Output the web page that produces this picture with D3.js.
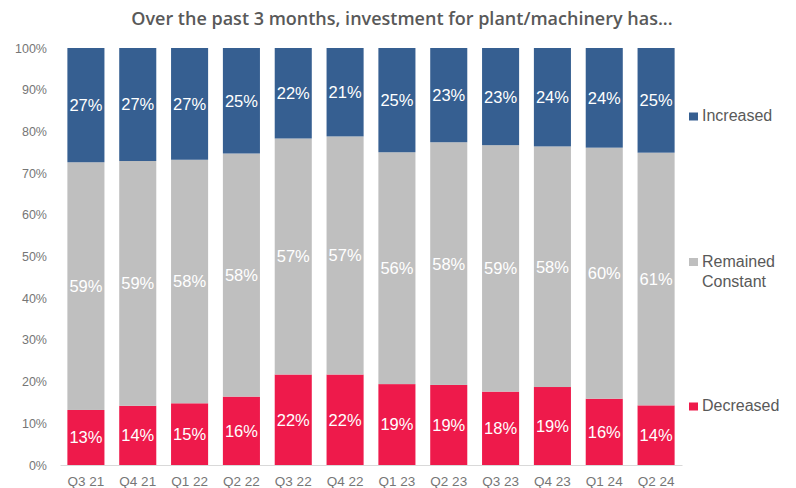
<!DOCTYPE html>
<html>
<head>
<meta charset="utf-8">
<script src="https://cdn.jsdelivr.net/npm/d3@7"></script>
<style>
  body { margin: 0; background: #fff; }
  svg { display: block; }
</style>
</head>
<body>
<svg id="chart"></svg>
<script>
const quarters = ['Q3 21', 'Q4 21', 'Q1 22', 'Q2 22', 'Q3 22', 'Q4 22', 'Q1 23', 'Q2 23', 'Q3 23', 'Q4 23', 'Q1 24', 'Q2 24'];
const decreased = [13.2, 14.2, 14.8, 16.4, 21.7, 21.7, 19.4, 19.2, 17.6, 18.7, 15.9, 14.3];
const remained = [59.4, 58.7, 58.4, 58.3, 56.6, 57.1, 55.6, 58.2, 59.1, 57.7, 60.2, 60.6];
const increased = [27.4, 27.1, 26.8, 25.3, 21.7, 21.2, 25.0, 22.6, 23.3, 23.6, 23.9, 25.1];
const yTicks = [0, 0.1, 0.2, 0.3, 0.4, 0.5, 0.6, 0.7, 0.8, 0.9, 1];

const W = 796, H = 488;
const margin = { top: 48, right: 114, bottom: 23, left: 60 };
const width = W - margin.left - margin.right;
const height = H - margin.top - margin.bottom;

const keys = ['decreased', 'remained', 'increased'];
const colors = { decreased: '#ee1a4b', remained: '#bfbfbf', increased: '#365f91' };
const legendNames = { decreased: ['Decreased'], remained: ['Remained', 'Constant'], increased: ['Increased'] };

const rows = quarters.map((q, i) => ({
  quarter: q,
  decreased: decreased[i],
  remained: remained[i],
  increased: increased[i],
}));

const series = d3.stack().keys(keys).offset(d3.stackOffsetExpand)(rows);

const svg = d3.select('#chart').attr('width', W).attr('height', H);

// title
svg.append('text')
  .attr('x', 402)
  .attr('y', 25)
  .attr('text-anchor', 'middle')
  .attr('font-family', 'Open Sans, sans-serif')
  .attr('font-weight', 600)
  .attr('font-size', 18)
  .attr('fill', '#595959')
  .text('Over the past 3 months, investment for plant/machinery has...');

const g = svg.append('g').attr('transform', `translate(${margin.left},${margin.top})`);

const x = d3.scaleBand().domain(quarters).range([0, width]).paddingInner(0.285).paddingOuter(0.1425);
const y = d3.scaleLinear().domain([0, 1]).range([height, 0]);

// y axis (labels only)
const yAxis = g.append('g')
  .call(d3.axisLeft(y).tickValues(yTicks).tickFormat(d3.format('.0%')).tickSize(0).tickPadding(13));
yAxis.select('.domain').remove();
yAxis.selectAll('text')
  .attr('font-family', 'Liberation Sans, Arial, sans-serif')
  .attr('font-size', 12.5)
  .attr('fill', '#767676');

// bars
series.forEach((s) => {
  g.append('g')
    .selectAll('rect')
    .data(s)
    .join('rect')
    .attr('x', (d) => x(d.data.quarter))
    .attr('y', (d) => y(d[1]))
    .attr('width', x.bandwidth())
    .attr('height', (d) => y(d[0]) - y(d[1]))
    .attr('fill', colors[s.key]);

  g.append('g')
    .selectAll('text')
    .data(s)
    .join('text')
    .attr('x', (d) => x(d.data.quarter) + x.bandwidth() / 2)
    .attr('y', (d) => (y(d[0]) + y(d[1])) / 2)
    .attr('dy', '0.36em')
    .attr('text-anchor', 'middle')
    .attr('font-family', 'Liberation Sans, Arial, sans-serif')
    .attr('font-size', 16.5)
    .attr('fill', '#fff')
    .text((d) => Math.round(d.data[s.key]) + '%');
});

// x axis
const xAxis = g.append('g')
  .attr('transform', `translate(0,${height})`)
  .call(d3.axisBottom(x).tickSize(0).tickPadding(11));
xAxis.select('.domain').attr('stroke', '#d9d9d9');
xAxis.selectAll('text')
  .attr('font-family', 'Liberation Sans, Arial, sans-serif')
  .attr('font-size', 13.5)
  .attr('fill', '#767676');

// legend, each entry next to its own segment of the last bar
const legendPos = { increased: 121, remained: 266.5, decreased: 411 };
const legend = svg.append('g');
keys.forEach((k) => {
  const ly = legendPos[k];
  legend.append('rect')
    .attr('x', 689)
    .attr('y', ly - 8.5)
    .attr('width', 9)
    .attr('height', 8)
    .attr('fill', colors[k]);
  const t = legend.append('text')
    .attr('font-family', 'Liberation Sans, Arial, sans-serif')
    .attr('font-size', 16)
    .attr('fill', '#595959');
  legendNames[k].forEach((line, i) => {
    t.append('tspan').attr('x', 702).attr('y', ly + i * 20).text(line);
  });
});
</script>
</body>
</html>
